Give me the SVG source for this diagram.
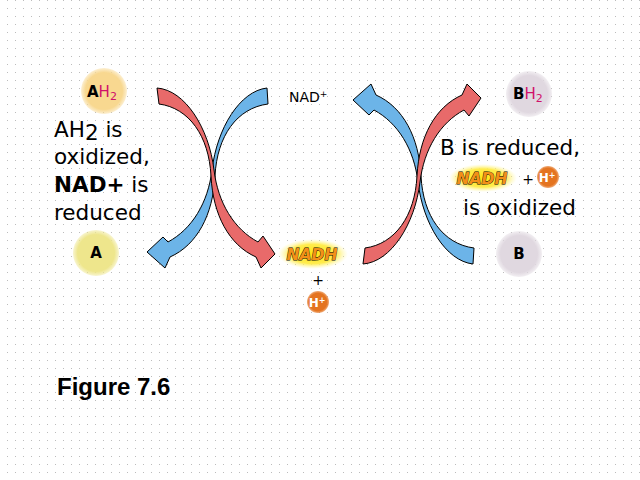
<svg xmlns="http://www.w3.org/2000/svg" width="640" height="480" viewBox="0 0 640 480">
<defs>
<pattern id="dots" width="8" height="8" patternUnits="userSpaceOnUse">
<rect x="7" y="0" width="1" height="1" fill="#bcbcbc"/>
</pattern>
<radialGradient id="gPeach"><stop offset="0.8" stop-color="#f8d890"/><stop offset="1" stop-color="#f8d890" stop-opacity="0.4"/></radialGradient>
<radialGradient id="gYel"><stop offset="0.8" stop-color="#eee68c"/><stop offset="1" stop-color="#eee68c" stop-opacity="0.4"/></radialGradient>
<radialGradient id="gGray"><stop offset="0.8" stop-color="#e0d8e0"/><stop offset="1" stop-color="#e0d8e0" stop-opacity="0.4"/></radialGradient>
<radialGradient id="gGlow"><stop offset="0" stop-color="#ffe410"/><stop offset="0.65" stop-color="#ffec50"/><stop offset="1" stop-color="#fff8a0" stop-opacity="0"/></radialGradient>
<radialGradient id="gOr"><stop offset="0.8" stop-color="#e47420"/><stop offset="1" stop-color="#e47420" stop-opacity="0.6"/></radialGradient>
<path id="redL" d="M157,88 C185,90 209,128 214,170 C218,203 234,229 258,242 L263,236 L275,254 L261,268 L256,257 C229,245 213,215 211,176 C209,136 189,108 159,104 Z"/>
<path id="blueL" d="M267,88 C240,91 217,128 212,170 C208,203 192,229 168,242 L163,237 L147,252 L165,268 L170,257 C197,245 213,215 215,176 C217,136 237,108 268,104 Z"/>
</defs>
<style>
.red{fill:#e86a6a;stroke:#000;stroke-width:1;stroke-linejoin:round}
.blue{fill:#6cb4e8;stroke:#000;stroke-width:1;stroke-linejoin:round}
.body{font-family:"DejaVu Sans",sans-serif;font-size:21.5px;fill:#000}
.lbl{font-family:"DejaVu Sans",sans-serif;font-weight:bold;font-size:15px;fill:#000}
.mag{fill:#d0106a;font-weight:normal}
.nadh{font-family:"DejaVu Sans",sans-serif;font-weight:bold;font-style:italic;font-size:15.5px;fill:#f39018;stroke:#000;stroke-width:0.8;paint-order:stroke}
.hp{font-family:"DejaVu Sans",sans-serif;font-weight:bold;font-size:12px;fill:#fff}
.plus{font-family:"DejaVu Sans",sans-serif;font-size:14px;fill:#000}
</style>
<rect width="640" height="480" fill="#fff"/>
<rect width="640" height="480" fill="url(#dots)"/>

<g id="connectors">
<use href="#blueL" class="blue"/>
<use href="#redL" class="red"/>
<g transform="matrix(1 0 0 -1 206 352)">
<use href="#blueL" class="blue"/>
<use href="#redL" class="red"/>
</g>
</g>

<g id="AH2">
<circle cx="104" cy="91" r="23" fill="url(#gPeach)"/>
<text x="87" y="97" class="lbl">A<tspan class="mag">H<tspan font-size="11" dy="3">2</tspan></tspan></text>
</g>
<g id="A">
<circle cx="96" cy="253" r="23" fill="url(#gYel)"/>
<text x="96" y="258" class="lbl" text-anchor="middle">A</text>
</g>
<g id="BH2">
<circle cx="529" cy="94" r="23" fill="url(#gGray)"/>
<text x="513" y="99" class="lbl">B<tspan class="mag">H<tspan font-size="11" dy="3">2</tspan></tspan></text>
</g>
<g id="B">
<circle cx="519" cy="254" r="23" fill="url(#gGray)"/>
<text x="519" y="259" class="lbl" text-anchor="middle">B</text>
</g>

<g id="NADplus">
<text x="289" y="102" font-family="DejaVu Sans,sans-serif" font-size="14" fill="#000">NAD<tspan font-size="9" dy="-5">+</tspan></text>
</g>

<g id="NADH-center">
<ellipse cx="313" cy="254" rx="35" ry="15" fill="url(#gGlow)"/>
<text x="312" y="260" class="nadh" text-anchor="middle">NADH</text>
<text x="318" y="285" class="plus" text-anchor="middle">+</text>
<circle cx="318" cy="302" r="11" fill="url(#gOr)"/>
<text x="317" y="307" class="hp" text-anchor="middle">H<tspan font-size="8" dy="-4">+</tspan></text>
</g>

<g id="left-text">
<text x="54" y="137" class="body">AH<tspan dy="3">2</tspan><tspan dy="-3"> is</tspan></text>
<text x="54" y="164" class="body">oxidized,</text>
<text x="54" y="192" class="body"><tspan font-weight="bold">NAD+</tspan> is</text>
<text x="54" y="220" class="body">reduced</text>
</g>

<g id="right-text">
<text x="440" y="155" class="body">B is reduced,</text>
<ellipse cx="483" cy="178" rx="34" ry="14" fill="url(#gGlow)"/>
<text x="482" y="184" class="nadh" text-anchor="middle">NADH</text>
<text x="528" y="184" class="plus" text-anchor="middle">+</text>
<circle cx="548" cy="177" r="11" fill="url(#gOr)"/>
<text x="547" y="182" class="hp" text-anchor="middle">H<tspan font-size="8" dy="-4">+</tspan></text>
<text x="463" y="215" class="body">is oxidized</text>
</g>

<g id="caption">
<text x="57" y="395" font-family="Liberation Sans,sans-serif" font-weight="bold" font-size="24" fill="#000">Figure 7.6</text>
</g>
</svg>
